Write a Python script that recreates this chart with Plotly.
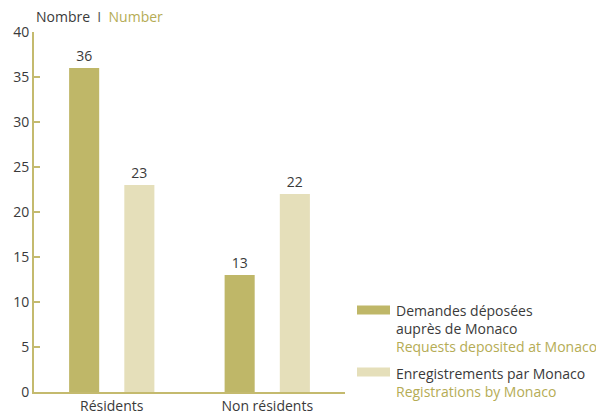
import plotly.graph_objects as go

categories = ["Résidents", "Non résidents"]
demandes = [36, 13]
enregistrements = [23, 22]
series_fr = ["Demandes déposées<br>auprès de Monaco", "Enregistrements par Monaco"]
series_en = ["Requests deposited at Monaco", "Registrations by Monaco"]
y_ticks = [0, 5, 10, 15, 20, 25, 30, 35, 40]

DARK = "#BFB768"
LIGHT = "#E5DFBA"
OLIVE = "#B5AC55"
AXIS = "#C4BA6E"
TEXT = "#3a3a3a"
FONT = "Open Sans"

W, H = 596, 417
ML, MR, MT, MB = 34, 251, 32, 25
PW, PH = W - ML - MR, H - MT - MB

def px_x(x):
    return (x - ML) / PW

def px_y(y):
    return 1 - (y - MT) / PH

fig = go.Figure()
for vals, col in [(demandes, DARK), (enregistrements, LIGHT)]:
    fig.add_trace(go.Bar(
        x=categories, y=vals, marker=dict(color=col, line=dict(width=0)),
        text=vals, textposition="outside", cliponaxis=False,
        textfont=dict(size=14, color=TEXT, family=FONT),
        showlegend=False, hoverinfo="skip",
    ))

fig.update_layout(
    width=W, height=H,
    margin=dict(l=ML, r=MR, t=MT, b=MB),
    paper_bgcolor="white", plot_bgcolor="white",
    barmode="group", bargap=0.29, bargroupgap=0.455,
    font=dict(family=FONT, size=14, color=TEXT),
    xaxis=dict(range=[-0.5, 1.5], showline=True, linecolor=AXIS, linewidth=2,
               ticks="", showgrid=False, automargin=False,
               tickfont=dict(size=14, color=TEXT)),
    yaxis=dict(range=[0, 40], tickvals=y_ticks, showline=True, linecolor=AXIS,
               linewidth=2, ticks="inside", ticklen=6, tickcolor=AXIS, tickwidth=2,
               showgrid=False, zeroline=False, automargin=False,
               tickfont=dict(size=14, color=TEXT)),
)

# Title
fig.add_annotation(
    xref="paper", yref="paper", x=px_x(34), y=px_y(17),
    xanchor="left", yanchor="middle", showarrow=False,
    text=f"<span style='color:{TEXT}'>Nombre</span>  <span style='color:#555'>I</span>  <span style='color:{OLIVE}'>Number</span>",
    font=dict(size=14, family=FONT),
)

# Custom legend
legend_items = [
    (DARK, series_fr[0], series_en[0], 310, 328),
    (LIGHT, series_fr[1], series_en[1], 372, 382),
]
for col, fr, en, ysw, yc in legend_items:
    fig.add_shape(type="rect", xref="paper", yref="paper",
                  x0=px_x(357), x1=px_x(390),
                  y0=px_y(ysw + 4.5), y1=px_y(ysw - 4.5),
                  fillcolor=col, line=dict(width=0))
    fig.add_annotation(
        xref="paper", yref="paper", x=px_x(394), y=px_y(yc),
        xanchor="left", yanchor="middle", align="left", showarrow=False,
        text=f"<span style='color:{TEXT}'>{fr}</span><br><span style='color:{OLIVE}'>{en}</span>",
        font=dict(size=14, family=FONT),
    )

fig.write_html("out.html", config={"displayModeBar": False},
               post_script="document.body.style.margin='0';")
